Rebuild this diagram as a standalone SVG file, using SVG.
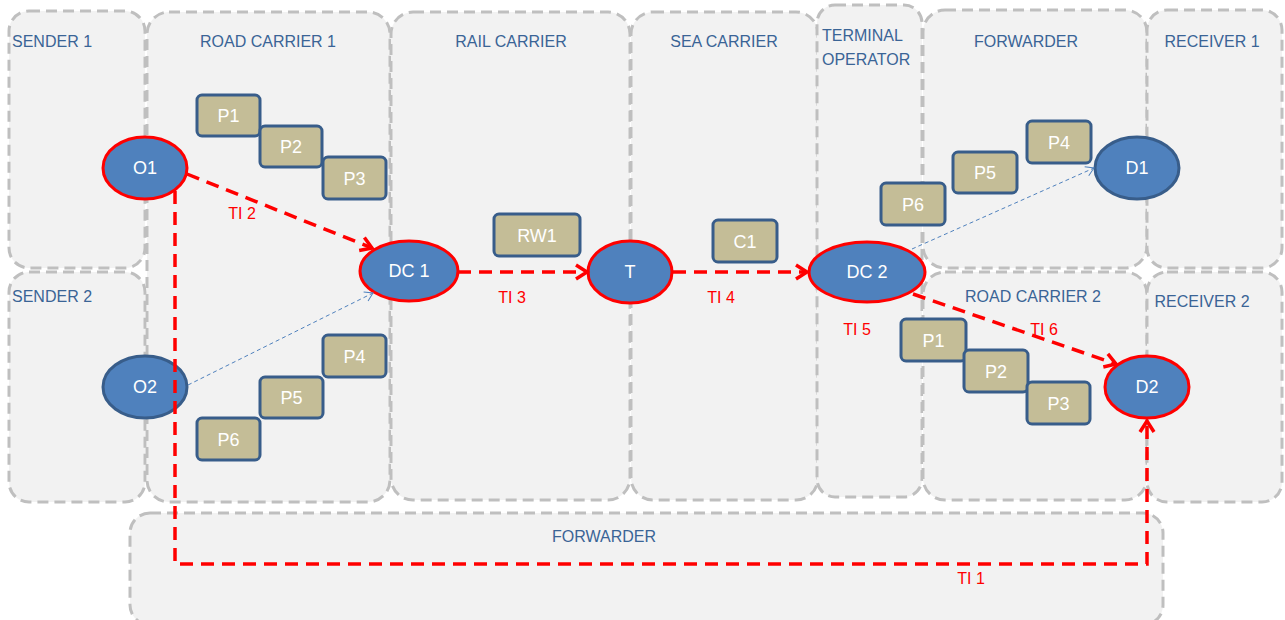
<svg xmlns="http://www.w3.org/2000/svg" width="1285" height="620" viewBox="0 0 1285 620">
<style>
.lane{fill:#f2f2f2;stroke:#bfbfbf;stroke-width:3;stroke-dasharray:11 6}
.lt{font-family:"Liberation Sans",Arial,sans-serif;font-size:16px;fill:#3a6496}
.ell{fill:#4f81bd;stroke-width:3}
.red{stroke:#ff0000}
.blu{stroke:#385d8a}
.box{fill:#c4bd97;stroke:#385d8a;stroke-width:3}
.nt{font-family:"Liberation Sans",Arial,sans-serif;font-size:18px;fill:#ffffff;text-anchor:middle}
.rl{fill:none;stroke:#ff0000;stroke-width:3.5;stroke-dasharray:13 8}
.bl{fill:none;stroke:#4f81bd;stroke-width:1;stroke-dasharray:4 3}
.tl{font-family:"Liberation Sans",Arial,sans-serif;font-size:16px;fill:#ff0000;text-anchor:middle}
</style>
<defs>
<marker id="ar" markerUnits="userSpaceOnUse" markerWidth="20" markerHeight="20" refX="13" refY="8" orient="auto" overflow="visible">
<path d="M2,1 L13,8 L2,15" fill="none" stroke="#ff0000" stroke-width="3.5" stroke-dasharray="none"/>
</marker>
<marker id="ab" markerUnits="userSpaceOnUse" markerWidth="12" markerHeight="12" refX="9" refY="5" orient="auto" overflow="visible">
<path d="M1,0 L9,5 L1,10" fill="none" stroke="#4f81bd" stroke-width="1" stroke-dasharray="none"/>
</marker>
</defs>
<g id="lanes">
<g id="sender1"><rect class="lane" x="9" y="11" width="136" height="257" rx="20"/><text class="lt" x="12" y="47">SENDER 1</text></g>
<g id="sender2"><rect class="lane" x="9" y="272" width="136" height="230" rx="20"/><text class="lt" x="12" y="302">SENDER 2</text></g>
<g id="roadcarrier1"><rect class="lane" x="147" y="12" width="243" height="490" rx="22"/><text class="lt" x="268" y="47" text-anchor="middle">ROAD CARRIER 1</text></g>
<g id="railcarrier"><rect class="lane" x="391" y="12" width="239" height="488" rx="22"/><text class="lt" x="511" y="47" text-anchor="middle">RAIL CARRIER</text></g>
<g id="seacarrier"><rect class="lane" x="631" y="12" width="187" height="488" rx="22"/><text class="lt" x="724" y="47" text-anchor="middle">SEA CARRIER</text></g>
<g id="terminaloperator"><rect class="lane" x="817" y="5" width="105" height="492" rx="18"/><text class="lt" x="822" y="41">TERMINAL</text><text class="lt" x="822" y="65">OPERATOR</text></g>
<g id="forwarder-top"><rect class="lane" x="923" y="10" width="224" height="258" rx="22"/><text class="lt" x="1026" y="47" text-anchor="middle">FORWARDER</text></g>
<g id="receiver1"><rect class="lane" x="1147" y="10" width="135" height="258" rx="20"/><text class="lt" x="1212" y="47" text-anchor="middle">RECEIVER 1</text></g>
<g id="roadcarrier2"><rect class="lane" x="923" y="272" width="224" height="228" rx="22"/><text class="lt" x="1033" y="302" text-anchor="middle">ROAD CARRIER 2</text></g>
<g id="receiver2"><rect class="lane" x="1147" y="272" width="135" height="230" rx="20"/><text class="lt" x="1202" y="307" text-anchor="middle">RECEIVER 2</text></g>
<g id="forwarder-bottom"><rect class="lane" x="130" y="513" width="1033" height="112" rx="20"/><text class="lt" x="604" y="542" text-anchor="middle">FORWARDER</text></g>
</g>
<g id="boxes">
<g id="rc1-p1"><rect class="box" x="197" y="95" width="63" height="41" rx="5"/><text class="nt" x="228.5" y="122">P1</text></g>
<g id="rc1-p2"><rect class="box" x="260" y="126" width="62" height="41" rx="5"/><text class="nt" x="291" y="153">P2</text></g>
<g id="rc1-p3"><rect class="box" x="323" y="157" width="63" height="42" rx="5"/><text class="nt" x="354.5" y="185">P3</text></g>
<g id="rc1-p4"><rect class="box" x="323" y="335" width="63" height="42" rx="5"/><text class="nt" x="354.5" y="363">P4</text></g>
<g id="rc1-p5"><rect class="box" x="260" y="377" width="63" height="41" rx="5"/><text class="nt" x="291.5" y="404">P5</text></g>
<g id="rc1-p6"><rect class="box" x="197" y="418" width="63" height="42" rx="5"/><text class="nt" x="228.5" y="446">P6</text></g>
<g id="rw1"><rect class="box" x="494" y="214" width="86" height="42" rx="5"/><text class="nt" x="537" y="242">RW1</text></g>
<g id="c1"><rect class="box" x="713" y="220" width="64" height="42" rx="5"/><text class="nt" x="745" y="248">C1</text></g>
<g id="fw-p6"><rect class="box" x="881" y="183" width="64" height="42" rx="5"/><text class="nt" x="913" y="211">P6</text></g>
<g id="fw-p5"><rect class="box" x="953" y="152" width="64" height="41" rx="5"/><text class="nt" x="985" y="179">P5</text></g>
<g id="fw-p4"><rect class="box" x="1027" y="121" width="64" height="42" rx="5"/><text class="nt" x="1059" y="149">P4</text></g>
<g id="rc2-p1"><rect class="box" x="901" y="319" width="65" height="42" rx="5"/><text class="nt" x="933.5" y="347">P1</text></g>
<g id="rc2-p2"><rect class="box" x="964" y="350" width="64" height="42" rx="5"/><text class="nt" x="996" y="378">P2</text></g>
<g id="rc2-p3"><rect class="box" x="1027" y="382" width="63" height="42" rx="5"/><text class="nt" x="1058.5" y="410">P3</text></g>
</g>
<g id="nodes">
<g id="O1"><ellipse class="ell red" cx="145" cy="168" rx="42" ry="31"/><text class="nt" x="145" y="174">O1</text></g>
<g id="O2"><ellipse class="ell blu" cx="145" cy="387" rx="42" ry="31"/><text class="nt" x="145" y="393">O2</text></g>
<g id="DC1"><ellipse class="ell red" cx="409" cy="271" rx="49" ry="30"/><text class="nt" x="409" y="277">DC 1</text></g>
<g id="T"><ellipse class="ell red" cx="630" cy="272" rx="42" ry="31"/><text class="nt" x="630" y="278">T</text></g>
<g id="DC2"><ellipse class="ell red" cx="867" cy="272" rx="58" ry="30"/><text class="nt" x="867" y="278">DC 2</text></g>
<g id="D1"><ellipse class="ell blu" cx="1137" cy="168" rx="42" ry="31"/><text class="nt" x="1137" y="174">D1</text></g>
<g id="D2"><ellipse class="ell red" cx="1147" cy="387" rx="42" ry="31"/><text class="nt" x="1147" y="393">D2</text></g>
</g>
<g id="connectors">
<path class="rl" d="M187,174 L372,248" marker-end="url(#ar)"/>
<path class="rl" d="M175,191 L175,564 L1147,564 L1147,421" marker-end="url(#ar)"/>
<path class="rl" d="M458,272 L587,272" marker-end="url(#ar)"/>
<path class="rl" d="M673,272 L807,272" marker-end="url(#ar)"/>
<path class="rl" d="M913,294 L1116,364" marker-end="url(#ar)"/>
<path class="bl" d="M188,385 L373,293" marker-end="url(#ab)"/>
<path class="bl" d="M912,249 L1094,168" marker-end="url(#ab)"/>
<text class="tl" x="242" y="219">TI 2</text>
<text class="tl" x="971" y="584">TI 1</text>
<text class="tl" x="512" y="303">TI 3</text>
<text class="tl" x="721" y="303">TI 4</text>
<text class="tl" x="857" y="335">TI 5</text>
<text class="tl" x="1044" y="335">TI 6</text>
</g>
</svg>
